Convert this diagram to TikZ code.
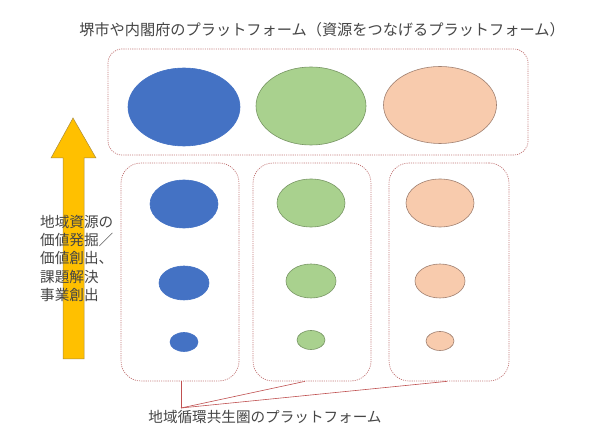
\documentclass[tikz,border=0pt]{standalone}
\usepackage{fontspec}
\setmainfont{Noto Sans CJK JP}
\usetikzlibrary{shapes.geometric,calc}
\definecolor{txt}{RGB}{70,70,70}
\definecolor{dotc}{RGB}{195,120,120}
\definecolor{linkc}{RGB}{192,80,80}
\definecolor{blueF}{RGB}{68,114,196}
\definecolor{greenF}{RGB}{169,209,142}
\definecolor{greenD}{RGB}{120,150,100}
\definecolor{peachF}{RGB}{248,203,173}
\definecolor{peachD}{RGB}{160,128,112}
\definecolor{arrowF}{RGB}{255,192,0}
\definecolor{arrowD}{RGB}{170,140,60}
\tikzset{
  platbox/.style={draw=dotc, line width=0.7pt, dash pattern=on 1.1pt off 1.1pt, rounded corners=#1},
  ell/.style={ellipse, inner sep=0pt, line width=0.6pt},
  eb/.style={ell, fill=blueF, draw=blueF},
  eg/.style={ell, fill=greenF, draw=greenD},
  ep/.style={ell, fill=peachF, draw=peachD},
  link/.style={draw=linkc, line width=0.6pt},
  lbl/.style={text=txt, inner sep=0pt, font=\fontsize{14.6}{18.2}\selectfont}
}
\begin{document}
\begin{tikzpicture}[x=1pt,y=-1pt]
\useasboundingbox (0,0) rectangle (600,443);
\fill[white] (0,0) rectangle (600,443);
% title
\node[lbl, font=\fontsize{15.2}{18}\selectfont] (title) at (322,30) {堺市や内閣府のプラットフォーム（資源をつなげるプラットフォーム）};
% top box
\draw[platbox=14] (108,49) rectangle (528,155);
\node[eb, minimum width=112pt, minimum height=78pt] (tb) at (184,107) {};
\node[eg, minimum width=110pt, minimum height=78pt] (tg) at (311,106) {};
\node[ep, minimum width=113pt, minimum height=77pt] (tp) at (440,105) {};
% arrow
\draw[fill=arrowF, draw=arrowD, line width=0.5pt]
  (63,359) -- (63,158) -- (51,158) -- (73,118) -- (96,158) -- (84,158) -- (84,359) -- cycle;
% left text
\node[lbl, anchor=north west, align=left] (side) at (40,215)
  {地域資源の\\価値発掘／\\価値創出、\\課題解決\\事業創出};
% lower boxes
\node[platbox=20, minimum width=118pt, minimum height=218pt, inner sep=0pt] (b1) at (180,272) {};
\node[platbox=20, minimum width=118pt, minimum height=218pt, inner sep=0pt] (b2) at (312,272) {};
\node[platbox=20, minimum width=120pt, minimum height=218pt, inner sep=0pt] (b3) at (449,272) {};
% blue column
\node[eb, minimum width=68pt, minimum height=48pt] (b1a) at (184,204) {};
\node[eb, minimum width=50pt, minimum height=34pt] (b1b) at (184,283) {};
\node[eb, minimum width=28pt, minimum height=19pt] (b1c) at (184,342) {};
% green column
\node[eg, minimum width=68pt, minimum height=48pt] (b2a) at (311,203) {};
\node[eg, minimum width=50pt, minimum height=34pt] (b2b) at (311,281) {};
\node[eg, minimum width=28pt, minimum height=19pt] (b2c) at (311,340) {};
% peach column
\node[ep, minimum width=68pt, minimum height=48pt] (b3a) at (440,203) {};
\node[ep, minimum width=50pt, minimum height=34pt] (b3b) at (440,281) {};
\node[ep, minimum width=28pt, minimum height=19pt] (b3c) at (440,341) {};
% connectors
\coordinate (j) at (181,408);
\draw[link] ($(b1.south)+(1,0)$) -- (j);
\draw[link] (j) -- ($(b2.south)+(-7,0)$);
\draw[link] (j) -- ($(b3.south)+(-2,0)$);
% bottom label
\node[lbl] (bottom) at (265,417) {地域循環共生圏のプラットフォーム};
\end{tikzpicture}
\end{document}
